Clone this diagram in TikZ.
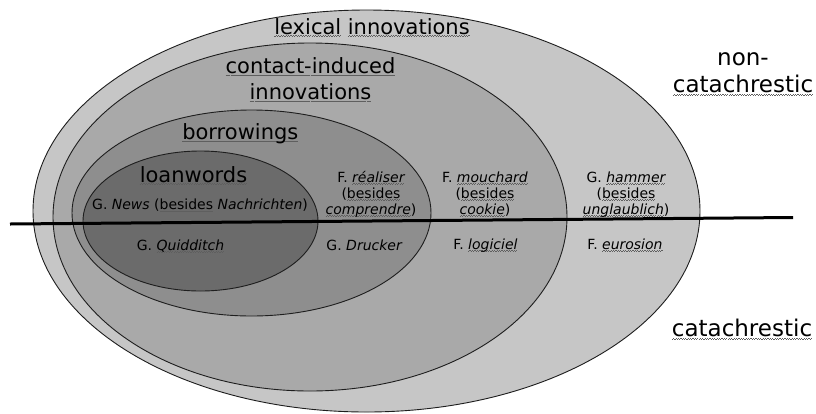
\documentclass[tikz,border=0pt]{standalone}
\usepackage{fontspec}
\setmainfont{DejaVu Sans}
\definecolor{lvlA}{RGB}{198,198,198}
\definecolor{lvlB}{RGB}{169,169,169}
\definecolor{lvlC}{RGB}{142,142,142}
\definecolor{lvlD}{RGB}{107,107,107}
\definecolor{sqc}{RGB}{95,95,95}
\definecolor{rim}{RGB}{30,30,30}
% wavy (spell-check style) underline drawn with small rules
\newcommand\sq[1]{\setbox0\hbox{#1}\rlap{\lower2.6pt\hbox to\wd0{\color{sqc}\xleaders\hbox{\rule{1.2pt}{0.6pt}\raise0.7pt\hbox{\rule{1.2pt}{0.6pt}}}\hfill}}\box0\relax}
\tikzset{
  ring/.style={draw=rim, line width=0.9pt},
  title/.style={inner sep=0pt, anchor=base, font=\fontsize{21}{26}\selectfont, align=center},
  ex/.style={inner sep=0pt, anchor=base, font=\fontsize{14}{16}\selectfont, align=center},
  side/.style={inner sep=0pt, anchor=base, font=\fontsize{23}{27.7}\selectfont, align=center},
  divider/.style={line width=3pt, black}
}
\begin{document}
\begin{tikzpicture}[x=1pt,y=-1pt]
\useasboundingbox (0,0) rectangle (816,413);
\fill[white] (0,0) rectangle (816,413);
% nested ellipses
\draw[ring, fill=lvlA] (366.5,211) ellipse [x radius=333.5pt, y radius=201pt];
\draw[ring, fill=lvlB] (310,217) ellipse [x radius=257pt, y radius=174pt];
\draw[ring, fill=lvlC] (251.5,213) ellipse [x radius=179.5pt, y radius=103pt];
\draw[ring, fill=lvlD] (200.5,221) ellipse [x radius=117.5pt, y radius=70pt];
% dividing line
\coordinate (L1) at (10,224);
\coordinate (L2) at (793,217.5);
\draw[divider] (L1) -- (L2);
% titles (multi-line nodes are placed by the baseline of their last line)
\node[title] (lex) at (372,34) {\sq{lexical} \sq{innovations}};
\node[title] (cont) at (310.5,99.3) {\sq{contact-induced}\\\sq{innovations}};
\node[title] (borr) at (240.3,139.3) {\sq{borrowings}};
\node[title] (loan) at (193.5,182) {\sq{loanwords}};
% examples
\node[ex] (news) at (200,209.3) {G. \textit{News} (\sq{besides} \textit{Nachrichten})};
\node[ex] (real) at (371,214) {F. \sq{\itshape réaliser}\\(\sq{besides}\\\sq{\itshape comprendre})};
\node[ex] (mouch) at (485,214) {F. \sq{\itshape mouchard}\\(\sq{besides}\\\sq{\itshape cookie})};
\node[ex] (hamm) at (626,214) {G. \sq{\itshape hammer}\\(\sq{besides}\\\sq{\itshape unglaublich})};
\node[ex] (quid) at (180.5,250) {G. \sq{\itshape Quidditch}};
\node[ex] (druck) at (364.5,250) {G. \textit{Drucker}};
\node[ex] (logi) at (485.5,249) {F. \sq{\itshape logiciel}};
\node[ex] (euro) at (625,249) {F. \sq{\itshape eurosion}};
% side labels
\node[side] (noncat) at (743,92.7) {non-\\\sq{catachrestic}};
\node[side] (cat) at (742,336.7) {\sq{catachrestic}};
\end{tikzpicture}
\end{document}
